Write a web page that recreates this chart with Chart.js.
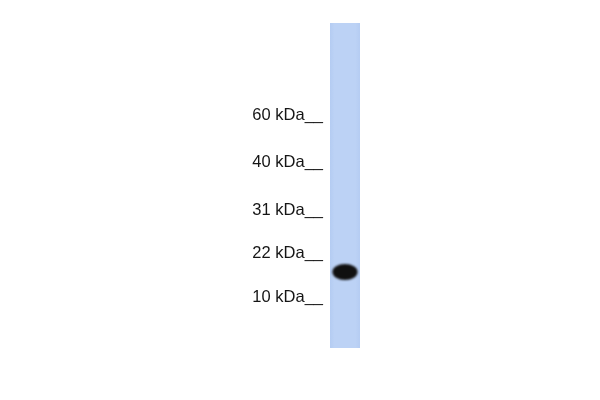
<!DOCTYPE html>
<html>
<head>
<meta charset="utf-8">
<script src="https://cdn.jsdelivr.net/npm/chart.js@4"></script>
<style>
	html, body { margin: 0; padding: 0; background: #fff; }
	#wrap { width: 600px; height: 400px; }
</style>
</head>
<body>
<div id="wrap"><canvas id="blot"></canvas></div>
<script>
// marker ladder: label and relative migration (0 = top of lane, 100 = bottom)
const markerLabels = ["60 kDa", "40 kDa", "31 kDa", "22 kDa", "10 kDa"];
const markerMigration = [28.3, 42.8, 57.8, 70.8, 84.6];

// sample lane and the detected band
const lanes = ["Lane 1"];
const laneRange = [[0, 100]];
const bandMigration = [76.6];

// soft dark oval used as the band's point style
function makeBand() {
	const c = document.createElement("canvas");
	c.width = 32;
	c.height = 22;
	const g = c.getContext("2d");
	g.filter = "blur(1.1px)";
	g.fillStyle = "#101010";
	g.beginPath();
	g.ellipse(16, 11, 12.6, 8, 0, 0, Math.PI * 2);
	g.fill();
	return c;
}

const ctx = document.getElementById("blot");

new Chart(ctx, {
	data: {
		labels: lanes,
		datasets: [
			{
				type: "line",
				label: "Band",
				data: bandMigration,
				showLine: false,
				pointStyle: makeBand(),
				pointRadius: 12,
			},
			{
				type: "bar",
				label: "Lane",
				data: laneRange,
				barPercentage: 1,
				categoryPercentage: 1,
				borderWidth: 0,
				backgroundColor: (c) => {
					const area = c.chart.chartArea;
					if (!area) return "#bad1f5";
					const gr = c.chart.ctx.createLinearGradient(area.left, 0, area.right, 0);
					gr.addColorStop(0, "#b4ccf2");
					gr.addColorStop(0.15, "#bcd2f5");
					gr.addColorStop(0.85, "#bcd2f5");
					gr.addColorStop(1, "#b5ccf2");
					return gr;
				},
			},
		],
	},
	options: {
		responsive: true,
		maintainAspectRatio: false,
		animation: false,
		layout: {
			padding: { left: 0, right: 240, top: 23, bottom: 52 },
		},
		plugins: {
			legend: { display: false },
			tooltip: { enabled: false },
		},
		scales: {
			x: {
				display: false,
				offset: true,
			},
			y: {
				min: 0,
				max: 100,
				reverse: true,
				border: { display: false },
				grid: { display: false, drawTicks: false },
				afterFit: (scale) => {
					scale.width = 330; // lane starts here
				},
				afterBuildTicks: (scale) => {
					scale.ticks = markerMigration.map((v) => ({ value: v }));
				},
				ticks: {
					padding: 7,
					color: "#151515",
					font: { family: "Liberation Sans", size: 16.5 },
					callback: (value, index) => markerLabels[index] + "__",
				},
			},
		},
	},
});
</script>
</body>
</html>
